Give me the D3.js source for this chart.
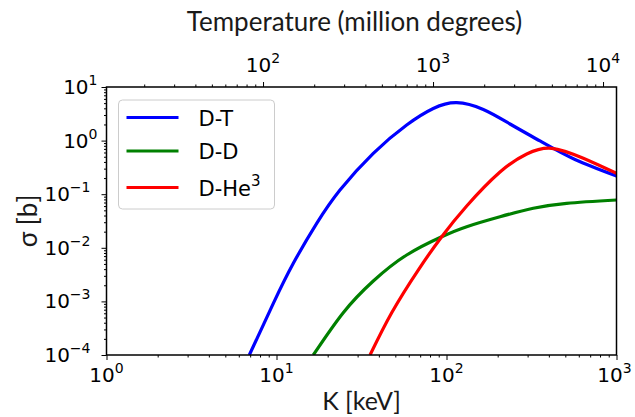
<!DOCTYPE html>
<html>
<head>
<meta charset="utf-8">
<script src="https://cdn.jsdelivr.net/npm/d3@7"></script>
<style>
  body { margin: 0; background: #fff; }
  svg { display: block; }
</style>
</head>
<body>
<svg id="chart" width="635" height="417"></svg>
<script>
// cross sections (keV, barn)
const energyDT = [6.92, 9.58, 12.56, 17.24, 23.63, 37.1, 58.3, 83.6, 114.8, 164.6, 236.4, 354.8, 570, 1000];
const sigmaDT = [1.0e-4, 9.2e-4, 5.14e-3, 0.0286, 0.1197, 0.579, 1.954, 3.97, 5.09, 3.80, 2.04, 0.984, 0.444, 0.219];

const energyDD = [16.46, 24.7, 37.1, 58.3, 93.7, 131.5, 206.4, 324, 509, 1000];
const sigmaDD = [1.0e-4, 6.15e-4, 2.40e-3, 7.34e-3, 0.0161, 0.0248, 0.0380, 0.0546, 0.0676, 0.078];

const energyDHe = [35.5, 47.6, 68.2, 93.7, 131.5, 206.4, 296.5, 415.8, 638, 1000];
const sigmaDHe = [1.0e-4, 6.15e-4, 3.85e-3, 0.0161, 0.0603, 0.259, 0.562, 0.718, 0.468, 0.245];

const seriesNames = ["D-T", "D-D", "D-He"];
const seriesColors = ["#0000ff", "#008000", "#ff0000"];

const xTickExps = [0, 1, 2, 3];
const yTickExps = [-4, -3, -2, -1, 0, 1];
const topTickExps = [2, 3, 4];
const keVToMK = 12; // conversion used by the top axis

const margin = { top: 87, right: 18.5, bottom: 62, left: 106.5 };
const width = 635 - margin.left - margin.right;
const height = 417 - margin.top - margin.bottom;

const svg = d3.select("#chart");
const g = svg.append("g").attr("transform", `translate(${margin.left},${margin.top})`);

const x = d3.scaleLog().domain([1, 1000]).range([0, width]);
const xTop = d3.scaleLog().domain([keVToMK, 1000 * keVToMK]).range([0, width]);
const y = d3.scaleLog().domain([1e-4, 10]).range([height, 0]);

const tickFont = "DejaVu Sans, sans-serif";
const labelFont = "Lato, sans-serif";

// minor ticks 2..9 inside a domain
function minorTicks(domain) {
  const out = [];
  const lo = Math.floor(Math.log10(domain[0])), hi = Math.ceil(Math.log10(domain[1]));
  for (let e = lo; e < hi; e++) {
    for (let m = 2; m <= 9; m++) {
      const v = m * Math.pow(10, e);
      if (v > domain[0] && v < domain[1]) out.push(v);
    }
  }
  return out;
}

function styleAxis(sel) {
  sel.select(".domain").remove();
  sel.selectAll("line").attr("stroke", "#000").attr("stroke-width", 1);
}

// bottom axis
g.append("g").attr("transform", `translate(0,${height})`)
  .call(d3.axisBottom(x).tickValues(minorTicks(x.domain())).tickSize(2.5).tickFormat(""))
  .call(styleAxis);
g.append("g").attr("transform", `translate(0,${height})`)
  .call(d3.axisBottom(x).tickValues(xTickExps.map(e => Math.pow(10, e))).tickSize(5).tickFormat(""))
  .call(styleAxis);

// left axis
g.append("g")
  .call(d3.axisLeft(y).tickValues(minorTicks(y.domain())).tickSize(2.5).tickFormat(""))
  .call(styleAxis);
g.append("g")
  .call(d3.axisLeft(y).tickValues(yTickExps.map(e => Math.pow(10, e))).tickSize(5).tickFormat(""))
  .call(styleAxis);

// top axis (temperature)
g.append("g")
  .call(d3.axisTop(xTop).tickValues(minorTicks(xTop.domain())).tickSize(2.5).tickFormat(""))
  .call(styleAxis);
g.append("g")
  .call(d3.axisTop(xTop).tickValues(topTickExps.map(e => Math.pow(10, e))).tickSize(5).tickFormat(""))
  .call(styleAxis);

// power-of-ten label
function powLabel(sel, exp) {
  sel.append("tspan").text("10");
  sel.append("tspan").attr("dy", -9).attr("font-size", 14).text(exp < 0 ? "\u2212" + (-exp) : exp);
}

xTickExps.forEach((e, i) => {
  g.append("text")
    .attr("x", x(Math.pow(10, e)) - (i === xTickExps.length - 1 ? 2 : 0)).attr("y", height + 27)
    .attr("text-anchor", "middle").attr("font-family", tickFont).attr("font-size", 20)
    .call(powLabel, e);
});
topTickExps.forEach(e => {
  g.append("text")
    .attr("x", xTop(Math.pow(10, e))).attr("y", -15)
    .attr("text-anchor", "middle").attr("font-family", tickFont).attr("font-size", 20)
    .call(powLabel, e);
});
yTickExps.forEach(e => {
  g.append("text")
    .attr("x", e < 0 ? -16 : -9).attr("y", y(Math.pow(10, e)) + 7)
    .attr("text-anchor", "end").attr("font-family", tickFont).attr("font-size", 20)
    .call(powLabel, e);
});

// curves
const line = d3.line()
  .x(d => x(d[0]))
  .y(d => y(d[1]))
  .curve(d3.curveNatural);

const seriesData = [
  d3.zip(energyDT, sigmaDT),
  d3.zip(energyDD, sigmaDD),
  d3.zip(energyDHe, sigmaDHe)
];

g.append("defs").append("clipPath").attr("id", "plot-clip")
  .append("rect").attr("width", width).attr("height", height);

const curves = g.append("g").attr("clip-path", "url(#plot-clip)");
seriesData.forEach((d, i) => {
  curves.append("path")
    .datum(d)
    .attr("fill", "none")
    .attr("stroke", seriesColors[i])
    .attr("stroke-width", 3.2)
    .attr("stroke-linejoin", "round")
    .attr("d", line);
});

// frame
g.append("rect")
  .attr("width", width).attr("height", height)
  .attr("fill", "none").attr("stroke", "#000").attr("stroke-width", 1.5);

// legend
const legend = g.append("g").attr("transform", "translate(12,13)");
legend.append("rect")
  .attr("width", 156).attr("height", 109).attr("rx", 4)
  .attr("fill", "#fff").attr("fill-opacity", 0.8)
  .attr("stroke", "#cccccc").attr("stroke-width", 1);
const legendRows = [17.5, 51, 87.5];
seriesNames.forEach((name, i) => {
  legend.append("line")
    .attr("x1", 8).attr("x2", 60)
    .attr("y1", legendRows[i]).attr("y2", legendRows[i])
    .attr("stroke", seriesColors[i]).attr("stroke-width", 3.2);
  const t = legend.append("text")
    .attr("x", 80).attr("y", legendRows[i] + 8)
    .attr("font-family", tickFont).attr("font-size", 21)
    .text(name);
  if (name === "D-He") {
    t.append("tspan").attr("dy", -10).attr("font-size", 15).text("3");
  }
});

// axis titles
svg.append("text")
  .attr("x", margin.left + width / 2).attr("y", 410)
  .attr("text-anchor", "middle").attr("font-family", labelFont).attr("font-size", 25)
  .attr("fill", "#1a1a1a")
  .text("K [keV]");
svg.append("text")
  .attr("x", margin.left + width / 2 - 7).attr("y", 31)
  .attr("text-anchor", "middle").attr("font-family", labelFont).attr("font-size", 26)
  .attr("fill", "#1a1a1a")
  .text("Temperature (million degrees)");
svg.append("text")
  .attr("transform", `translate(37,${margin.top + height / 2}) rotate(-90)`)
  .attr("text-anchor", "middle").attr("font-family", labelFont).attr("font-size", 26)
  .attr("fill", "#1a1a1a")
  .text("\u03c3 [b]");
</script>
</body>
</html>
